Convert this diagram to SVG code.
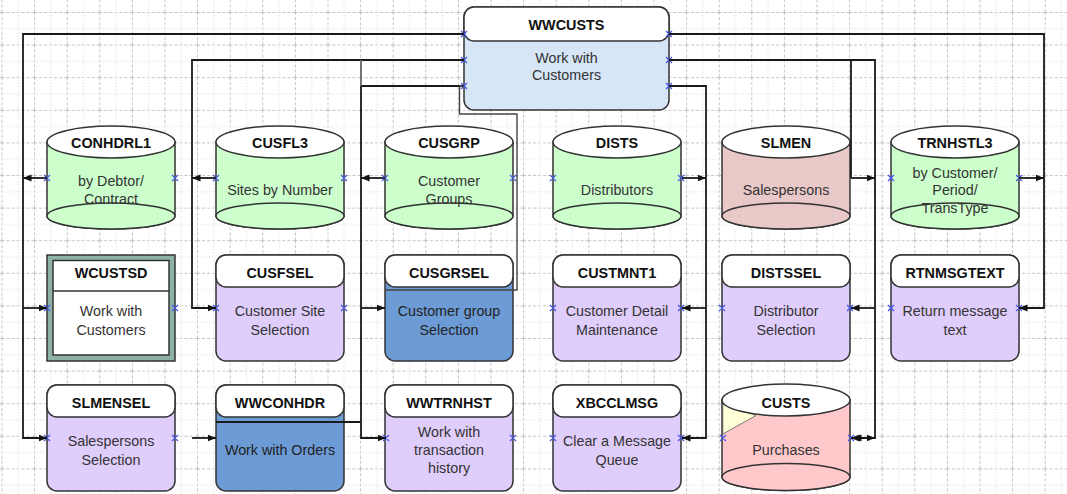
<svg xmlns="http://www.w3.org/2000/svg" width="1067" height="494" viewBox="0 0 1067 494">
<style>
.hd{font-family:"Liberation Sans",Arial,sans-serif;font-size:14.4px;font-weight:bold;fill:#111;text-anchor:middle}
.bd{font-family:"Liberation Sans",Arial,sans-serif;font-size:14.3px;fill:#333;text-anchor:middle}
.box{stroke:#333;stroke-width:1.5}
.hdr{fill:#fff;stroke:#333;stroke-width:1.5}
.pur{fill:#dfcdfb}
.blu{fill:#6c9bd6}
.grn{fill:#ccffcc;stroke:#333;stroke-width:1.5}
.wire{fill:none;stroke:#1a1a1a;stroke-width:1.8}
.arr{fill:none;stroke:#1a1a1a;stroke-width:1.8;marker-end:url(#ah)}
.port{stroke:#4455ee;stroke-width:1.2;fill:none}
</style>
<defs>
<pattern id="grid" x="1.5" y="12" width="32.6" height="32.6" patternUnits="userSpaceOnUse">
<path d="M0,0.5 H32.6 M0.5,0 V32.6" stroke="#c4c4c4" stroke-width="1" stroke-dasharray="3,2" fill="none"/>
<path d="M0,16.8 H32.6 M16.8,0 V32.6" stroke="#d6d6d6" stroke-width="1" stroke-dasharray="1,2" fill="none"/>
</pattern>
<marker id="ah" markerWidth="9" markerHeight="8" refX="8.5" refY="4" orient="auto-start-reverse" markerUnits="userSpaceOnUse">
<path d="M0,0.5 L8.5,4 L0,7.5 Z" fill="#111"/>
</marker>
</defs>
<rect width="1067" height="494" fill="#fff"/>
<rect width="1067" height="494" fill="url(#grid)"/>

<g id="WWCUSTS">
<rect class="box" x="464" y="7" width="205" height="103" rx="10" fill="#d6e6f7"/>
<rect class="hdr" x="464" y="7" width="205" height="34" rx="10"/>
<text class="hd" x="566.5" y="30">WWCUSTS</text>
<text class="bd" x="566.5" y="62.5">Work with</text>
<text class="bd" x="566.5" y="79.5">Customers</text>
</g>

<g id="CONHDRL1">
<path class="grn" d="M47,142 V216 A64,13 0 0 0 175,216 V142 Z"/>
<ellipse class="grn" cx="111" cy="216" rx="64" ry="13"/>
<ellipse class="hdr" cx="111" cy="142" rx="64" ry="16"/>
<text class="hd" x="111" y="147.5">CONHDRL1</text>
<text class="bd" x="111" y="186">by Debtor/</text>
<text class="bd" x="111" y="204">Contract</text>
</g>
<g id="CUSFL3">
<path class="grn" d="M216,142 V216 A64,13 0 0 0 344,216 V142 Z"/>
<ellipse class="grn" cx="280" cy="216" rx="64" ry="13"/>
<ellipse class="hdr" cx="280" cy="142" rx="64" ry="16"/>
<text class="hd" x="280" y="147.5">CUSFL3</text>
<text class="bd" x="280" y="195">Sites by Number</text>
</g>
<g id="CUSGRP">
<path class="grn" d="M385,142 V216 A64,13 0 0 0 513,216 V142 Z"/>
<ellipse class="grn" cx="449" cy="216" rx="64" ry="13"/>
<ellipse class="hdr" cx="449" cy="142" rx="64" ry="16"/>
<text class="hd" x="449" y="147.5">CUSGRP</text>
<text class="bd" x="449" y="186">Customer</text>
<text class="bd" x="449" y="204">Groups</text>
</g>
<g id="DISTS">
<path class="grn" d="M553,142 V216 A64,13 0 0 0 681,216 V142 Z"/>
<ellipse class="grn" cx="617" cy="216" rx="64" ry="13"/>
<ellipse class="hdr" cx="617" cy="142" rx="64" ry="16"/>
<text class="hd" x="617" y="147.5">DISTS</text>
<text class="bd" x="617" y="195">Distributors</text>
</g>
<g id="SLMEN">
<path class="grn" style="fill:#e9c8c8" d="M722,142 V216 A64,13 0 0 0 850,216 V142 Z"/>
<ellipse class="grn" style="fill:#e9c8c8" cx="786" cy="216" rx="64" ry="13"/>
<ellipse class="hdr" cx="786" cy="142" rx="64" ry="16"/>
<text class="hd" x="786" y="147.5">SLMEN</text>
<text class="bd" x="786" y="195">Salespersons</text>
</g>
<g id="TRNHSTL3">
<path class="grn" d="M891,142 V216 A64,13 0 0 0 1019,216 V142 Z"/>
<ellipse class="grn" cx="955" cy="216" rx="64" ry="13"/>
<ellipse class="hdr" cx="955" cy="142" rx="64" ry="16"/>
<text class="hd" x="955" y="147.5">TRNHSTL3</text>
<text class="bd" x="955" y="177.5">by Customer/</text>
<text class="bd" x="955" y="194.5">Period/</text>
<text class="bd" x="955" y="212.5">TransType</text>
</g>

<g id="WCUSTSD">
<rect x="47" y="255" width="128" height="106" fill="#8db3a8" stroke="#333" stroke-width="1.5"/>
<rect x="53" y="260.5" width="116" height="94.5" fill="#fff" stroke="#333" stroke-width="1.5"/>
<line x1="53" y1="291" x2="169" y2="291" stroke="#333" stroke-width="1.5"/>
<text class="hd" x="111" y="277.5">WCUSTSD</text>
<text class="bd" x="111" y="316">Work with</text>
<text class="bd" x="111" y="334.5">Customers</text>
</g>
<g id="CUSFSEL">
<rect class="box pur" x="216" y="255" width="128" height="106" rx="10"/>
<rect class="hdr" x="216" y="255" width="128" height="32" rx="10"/>
<text class="hd" x="280" y="277.5">CUSFSEL</text>
<text class="bd" x="280" y="316">Customer Site</text>
<text class="bd" x="280" y="334.5">Selection</text>
</g>
<g id="CUSGRSEL">
<rect class="box blu" x="385" y="255" width="128" height="106" rx="10"/>
<rect class="hdr" x="385" y="255" width="128" height="32" rx="10"/>
<text class="hd" x="449" y="277.5">CUSGRSEL</text>
<text class="bd" x="449" y="316" style="fill:#222">Customer group</text>
<text class="bd" x="449" y="334.5" style="fill:#222">Selection</text>
</g>
<g id="CUSTMNT1">
<rect class="box pur" x="553" y="255" width="128" height="106" rx="10"/>
<rect class="hdr" x="553" y="255" width="128" height="32" rx="10"/>
<text class="hd" x="617" y="277.5">CUSTMNT1</text>
<text class="bd" x="617" y="316">Customer Detail</text>
<text class="bd" x="617" y="334.5">Maintenance</text>
</g>
<g id="DISTSSEL">
<rect class="box pur" x="722" y="255" width="128" height="106" rx="10"/>
<rect class="hdr" x="722" y="255" width="128" height="32" rx="10"/>
<text class="hd" x="786" y="277.5">DISTSSEL</text>
<text class="bd" x="786" y="316">Distributor</text>
<text class="bd" x="786" y="334.5">Selection</text>
</g>
<g id="RTNMSGTEXT">
<rect class="box pur" x="891" y="255" width="128" height="106" rx="10"/>
<rect class="hdr" x="891" y="255" width="128" height="32" rx="10"/>
<text class="hd" x="955" y="277.5">RTNMSGTEXT</text>
<text class="bd" x="955" y="316">Return message</text>
<text class="bd" x="955" y="334.5">text</text>
</g>

<g id="SLMENSEL">
<rect class="box pur" x="47" y="385" width="128" height="106" rx="10"/>
<rect class="hdr" x="47" y="385" width="128" height="32" rx="10"/>
<text class="hd" x="111" y="407.5">SLMENSEL</text>
<text class="bd" x="111" y="446">Salespersons</text>
<text class="bd" x="111" y="464.5">Selection</text>
</g>
<g id="WWCONHDR">
<rect class="box blu" x="216" y="385" width="128" height="106" rx="10"/>
<rect class="hdr" x="216" y="385" width="128" height="32" rx="10"/>
<text class="hd" x="280" y="407.5">WWCONHDR</text>
<text class="bd" x="280" y="455" style="fill:#222">Work with Orders</text>
</g>
<g id="WWTRNHST">
<rect class="box pur" x="385" y="385" width="128" height="106" rx="10"/>
<rect class="hdr" x="385" y="385" width="128" height="32" rx="10"/>
<text class="hd" x="449" y="407.5">WWTRNHST</text>
<text class="bd" x="449" y="437">Work with</text>
<text class="bd" x="449" y="455">transaction</text>
<text class="bd" x="449" y="473">history</text>
</g>
<g id="XBCCLMSG">
<rect class="box pur" x="553" y="385" width="128" height="106" rx="10"/>
<rect class="hdr" x="553" y="385" width="128" height="32" rx="10"/>
<text class="hd" x="617" y="407.5">XBCCLMSG</text>
<text class="bd" x="617" y="446">Clear a Message</text>
<text class="bd" x="617" y="464.5">Queue</text>
</g>
<g id="CUSTS">
<path class="grn" style="fill:#ffc9cc" d="M722,400 V477 A64,13.5 0 0 0 850,477 V400 Z"/>
<ellipse class="grn" style="fill:#ffc9cc" cx="786" cy="477" rx="64" ry="13.5"/>
<polygon points="722.8,404 756,415.5 722.8,434" fill="#ffffd8" stroke="#555" stroke-width="0.8"/>
<ellipse class="hdr" cx="786" cy="400" rx="64" ry="16"/>
<text class="hd" x="786" y="407.5">CUSTS</text>
<text class="bd" x="786" y="454.5">Purchases</text>
</g>

<g id="ports" class="port">
<path d="M461,31 l6,6 m0,-6 l-6,6 M461,57 l6,6 m0,-6 l-6,6 M461,83 l6,6 m0,-6 l-6,6 M666,31 l6,6 m0,-6 l-6,6 M666,57 l6,6 m0,-6 l-6,6 M666,83 l6,6 m0,-6 l-6,6"/>
<path d="M44,175 l6,6 m0,-6 l-6,6 M172,175 l6,6 m0,-6 l-6,6 M213,175 l6,6 m0,-6 l-6,6 M341,175 l6,6 m0,-6 l-6,6 M382,175 l6,6 m0,-6 l-6,6 M510,175 l6,6 m0,-6 l-6,6 M550,175 l6,6 m0,-6 l-6,6 M678,175 l6,6 m0,-6 l-6,6 M888,175 l6,6 m0,-6 l-6,6 M1016,175 l6,6 m0,-6 l-6,6"/>
<path d="M44,305 l6,6 m0,-6 l-6,6 M172,305 l6,6 m0,-6 l-6,6 M213,305 l6,6 m0,-6 l-6,6 M341,305 l6,6 m0,-6 l-6,6 M550,305 l6,6 m0,-6 l-6,6 M678,305 l6,6 m0,-6 l-6,6 M719,305 l6,6 m0,-6 l-6,6 M847,305 l6,6 m0,-6 l-6,6 M888,305 l6,6 m0,-6 l-6,6 M1016,305 l6,6 m0,-6 l-6,6"/>
<path d="M44,435 l6,6 m0,-6 l-6,6 M172,435 l6,6 m0,-6 l-6,6 M383,435 l6,6 m0,-6 l-6,6 M510,435 l6,6 m0,-6 l-6,6 M550,435 l6,6 m0,-6 l-6,6 M678,435 l6,6 m0,-6 l-6,6 M720,435 l6,6 m0,-6 l-6,6 M848,435 l6,6 m0,-6 l-6,6"/>
</g>

<g id="connectors">
<path class="wire" d="M464,34 H23 V438 H47" style="marker-end:url(#ah)"/>
<path class="arr" d="M47,178 H23"/>
<path class="arr" d="M23,308 H47"/>
<path class="wire" d="M464,60 H192 V308 H216" style="marker-end:url(#ah)"/>
<path class="arr" d="M216,178 H192"/>
<path class="arr" d="M192,438 H216"/>
<path class="wire" d="M464,86 H361 V438 H386" style="marker-end:url(#ah)"/>
<path class="wire" d="M361,60 V86" style="stroke:#666"/>
<path class="arr" d="M385,178 H361"/>
<path class="arr" d="M361,308 H385"/>
<path class="wire" d="M361,422 H216"/>
<path class="wire" d="M464,86 H459.5 V114 H517 V290 H385" style="stroke:#444;stroke-width:1.4"/>
<path class="wire" d="M669,34 H1044 V308 H1019" style="marker-end:url(#ah)"/>
<path class="arr" d="M1019,178 H1044"/>
<path class="wire" d="M669,60 H875 V438 H851" style="marker-end:url(#ah)"/>
<path class="wire" d="M851,60 V178"/>
<path class="arr" d="M851,178 H875"/>
<path class="arr" d="M875,308 H851"/>
<path class="arr" d="M853,438 H875" style="marker-start:url(#ah)"/>
<path class="wire" d="M669,86 H706 V438 H682" style="marker-end:url(#ah)"/>
<path class="arr" d="M682,178 H706"/>
<path class="arr" d="M706,308 H682"/>
</g>
</svg>
